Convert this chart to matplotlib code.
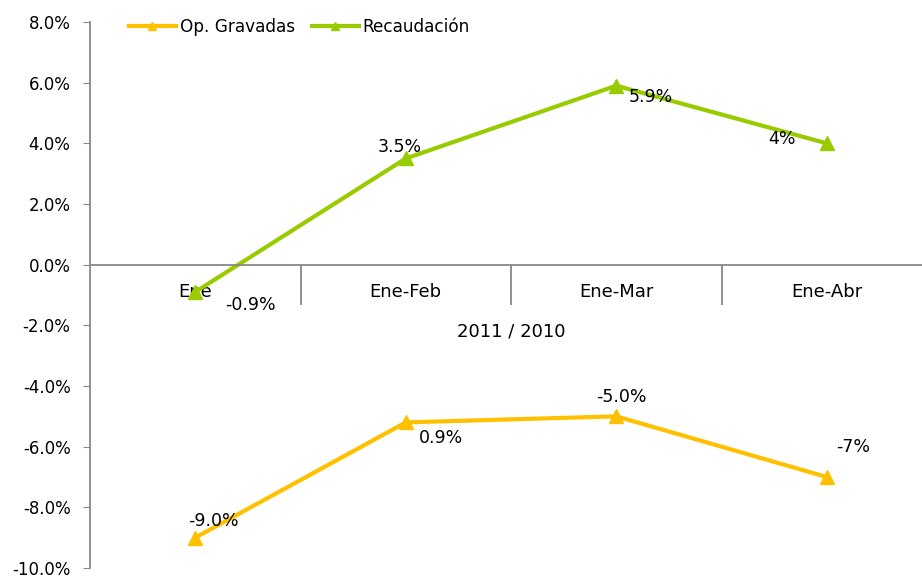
import matplotlib.pyplot as plt
from matplotlib.ticker import FuncFormatter, FixedLocator

categories = ['Ene', 'Ene-Feb', 'Ene-Mar', 'Ene-Abr']
gravadas = [-9.0, -5.2, -5.0, -7.0]
recaudacion = [-0.9, 3.5, 5.9, 4.0]
gravadas_labels = ['-9.0%', '0.9%', '-5.0%', '-7%']
recaudacion_labels = ['-0.9%', '3.5%', '5.9%', '4%']
yticks = [-10, -8, -6, -4, -2, 0, 2, 4, 6, 8]

# label offsets in pixels (dx, dy)
grav_off = [(18, 17), (35, -16), (5, 19), (26, 30)]
rec_off = [(55, -13), (-6, 12), (35, -11), (-45, 4)]

plt.rcParams.update({'font.family': 'DejaVu Sans', 'font.size': 11})
fig = plt.figure(figsize=(9.22, 5.78), dpi=100)
ax = fig.add_axes((90 / 922, 10 / 578, 842 / 922, 546 / 578))

gold = '#FFC000'
green = '#99CC00'
x = list(range(len(categories)))
ax.plot(x, gravadas, color=gold, lw=3, marker='^', ms=10, label='Op. Gravadas', clip_on=False)
ax.plot(x, recaudacion, color=green, lw=3, marker='^', ms=10, label='Recaudación', clip_on=False)

for i in x:
    ax.annotate(gravadas_labels[i], (i, gravadas[i]), xytext=grav_off[i],
                textcoords='offset pixels', ha='center', va='center', fontsize=12.5)
    ax.annotate(recaudacion_labels[i], (i, recaudacion[i]), xytext=rec_off[i],
                textcoords='offset pixels', ha='center', va='center', fontsize=12.5)

ax.set_xlim(-0.5, 3.5)
ax.set_ylim(-10, 8)
ax.set_yticks(yticks)
ax.yaxis.set_major_formatter(FuncFormatter(lambda v, p: '%.1f%%' % v))

ax.spines['top'].set_visible(False)
ax.spines['right'].set_visible(False)
ax.spines['left'].set_color('#888888')
ax.spines['left'].set_linewidth(1.3)
ax.spines['bottom'].set_position(('data', 0))
ax.spines['bottom'].set_color('#888888')
ax.spines['bottom'].set_linewidth(1.3)
ax.tick_params(axis='y', length=5, color='#888888', pad=9, labelsize=12)

ax.set_xticks(x)
ax.set_xticklabels(categories, fontsize=13)
ax.tick_params(axis='x', which='major', length=0, pad=13)
ax.xaxis.set_minor_locator(FixedLocator([0.5, 1.5, 2.5]))
ax.tick_params(axis='x', which='minor', length=29, width=1.3, color='#888888', direction='out')

ax.text(1.5, -2.2, '2011 / 2010', ha='center', va='center', fontsize=13)

ax.legend(loc='center left', bbox_to_anchor=(0.038, 0.991), ncol=2, frameon=False,
          handlelength=2.8, handletextpad=0.2, columnspacing=1.0, borderaxespad=0,
          markerscale=0.6, fontsize=12.2)

fig.savefig('out.png')
